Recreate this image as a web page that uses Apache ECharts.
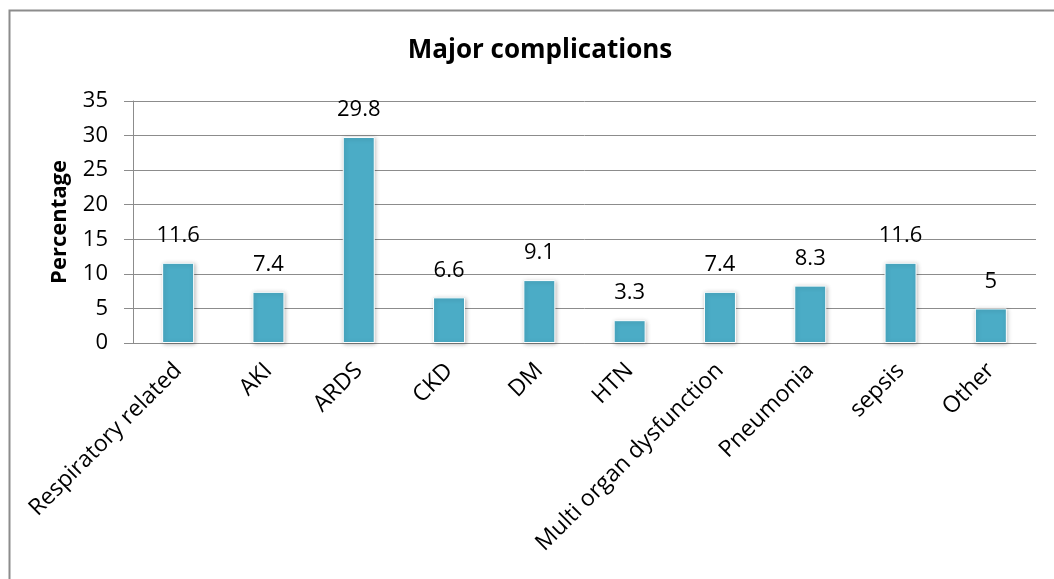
<!DOCTYPE html>
<html>
<head>
<meta charset="utf-8">
<script src="https://cdn.jsdelivr.net/npm/echarts@6/dist/echarts.min.js"></script>
<style>
  html, body { margin: 0; padding: 0; background: #fff; }
  #chart { width: 1054px; height: 579px; }
</style>
</head>
<body>
<div id="chart"></div>
<script>
// Complication categories and their share of patients (%)
const categories = ['Respiratory related', 'AKI', 'ARDS', 'CKD', 'DM', 'HTN',
  'Multi organ dysfunction', 'Pneumonia', 'sepsis', 'Other'];
const percentages = [11.6, 7.4, 29.8, 6.6, 9.1, 3.3, 7.4, 8.3, 11.6, 5];
const yTicks = [0, 5, 10, 15, 20, 25, 30, 35];

const FONT = '"Open Sans", "Liberation Sans", sans-serif';
const chart = echarts.init(document.getElementById('chart'));

chart.setOption({
  animation: false,
  backgroundColor: '#fff',
  graphic: [{
    type: 'rect',
    left: 7, top: 8,
    shape: { width: 1080, height: 600 },
    style: { fill: 'none', stroke: '#8c8c8c', lineWidth: 2 },
    silent: true
  }],
  title: {
    text: 'Major complications',
    left: 535, top: 33,
    textAlign: 'center',
    textStyle: { fontFamily: FONT, fontSize: 26, fontWeight: 'bold', color: '#000' }
  },
  grid: { left: 133, right: 18, top: 101, bottom: 236, containLabel: false },
  xAxis: {
    type: 'category',
    data: categories,
    axisLine: { lineStyle: { color: '#8c8c8c', width: 1 } },
    axisTick: { show: false },
    axisLabel: {
      rotate: 45, interval: 0, margin: 24,
      fontFamily: FONT, fontSize: 23, color: '#000'
    }
  },
  yAxis: {
    type: 'value',
    name: 'Percentage',
    nameLocation: 'middle',
    nameGap: 62,
    nameRotate: 90,
    nameTextStyle: { fontFamily: FONT, fontSize: 22, fontWeight: 'bold', color: '#000' },
    min: yTicks[0], max: yTicks[yTicks.length - 1], interval: 5,
    axisLine: { show: true, lineStyle: { color: '#8c8c8c' } },
    axisTick: { show: true, length: 9, lineStyle: { color: '#8c8c8c' } },
    splitLine: { lineStyle: { color: '#8c8c8c', width: 1 } },
    axisLabel: { fontFamily: FONT, fontSize: 22, color: '#000', margin: 25 }
  },
  series: [{
    type: 'bar',
    data: percentages,
    barWidth: 32,
    itemStyle: {
      color: '#4bacc6',
      borderColor: '#ffffff', borderWidth: 1,
      shadowColor: 'rgba(0,0,0,0.25)', shadowBlur: 4, shadowOffsetX: 1, shadowOffsetY: 1
    },
    label: {
      show: true, position: 'top', distance: 16,
      fontFamily: FONT, fontSize: 22, color: '#000'
    }
  }]
});
</script>
</body>
</html>
